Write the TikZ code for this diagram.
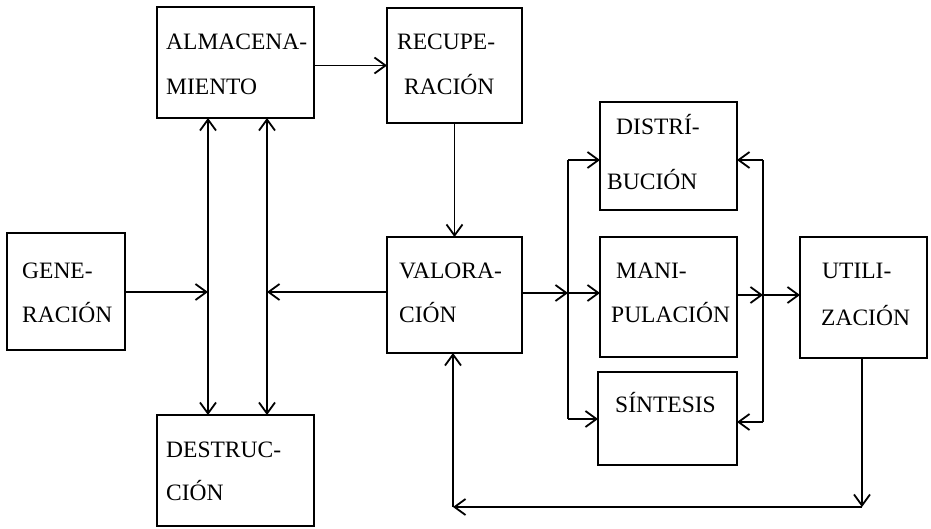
\documentclass[tikz,border=0pt]{standalone}
\usepackage{fontspec}
\setmainfont{Liberation Serif}
\usetikzlibrary{arrows.meta}
\begin{document}
\begin{tikzpicture}[x=1pt,y=-1pt,
  box/.style={draw,line width=1.8pt,inner sep=0pt,outer sep=0pt},
  lbl/.style={inner sep=0pt,anchor=base west,font=\fontsize{23.5}{28}\selectfont},
  arr/.style={line width=1.8pt,-{Straight Barb[length=11pt,width=16pt,line width=1.8pt]}},
  arrb/.style={line width=1.8pt,{Straight Barb[length=11pt,width=16pt,line width=1.8pt]}-{Straight Barb[length=11pt,width=16pt,line width=1.8pt]}},
  ln/.style={line width=1.8pt}]
\useasboundingbox (0,0) rectangle (931,528);
% boxes
\node[box,minimum width=157pt,minimum height=111pt] (alma) at (235.5,62.5) {};
\node[box,minimum width=135pt,minimum height=115pt] (recup) at (454.5,65.5) {};
\node[box,minimum width=118pt,minimum height=117pt] (gen) at (66,291.5) {};
\node[box,minimum width=135pt,minimum height=116pt] (valor) at (454.5,295) {};
\node[box,minimum width=157pt,minimum height=111pt] (destr) at (235.5,470.5) {};
\node[box,minimum width=137pt,minimum height=108pt] (distr) at (668.5,156) {};
\node[box,minimum width=137pt,minimum height=120pt] (manip) at (668.5,297) {};
\node[box,minimum width=139pt,minimum height=93pt] (sint) at (667.5,418.5) {};
\node[box,minimum width=127pt,minimum height=121pt] (util) at (863.5,297.5) {};
% texts
\node[lbl] (almaA) at (166,49.5) {ALMACENA-};
\node[lbl] (almaB) at (166,94.5) {MIENTO};
\node[lbl] (recA) at (397,49.5) {RECUPE-};
\node[lbl] (recB) at (404,94.5) {RACIÓN};
\node[lbl] (genA) at (22,278.5) {GENE-};
\node[lbl] (genB) at (22,322.5) {RACIÓN};
\node[lbl] (valA) at (399,278.5) {VALORA-};
\node[lbl] (valB) at (399,322.5) {CIÓN};
\node[lbl] (desA) at (166,457.5) {DESTRUC-};
\node[lbl] (desB) at (166,500.5) {CIÓN};
\node[lbl] (disA) at (616,134.5) {DISTRÍ-};
\node[lbl] (disB) at (607,189.5) {BUCIÓN};
\node[lbl] (manA) at (616,278.5) {MANI-};
\node[lbl] (manB) at (611,322.5) {PULACIÓN};
\node[lbl] (sinA) at (615,412.5) {SÍNTESIS};
\node[lbl] (utiA) at (822,278.5) {UTILI-};
\node[lbl] (utiB) at (821,325) {ZACIÓN};
% coordinates
\coordinate (xa) at (208,292);
\coordinate (xb) at (267,292);
\coordinate (jl) at (568,293);
\coordinate (jlt) at (568,160);
\coordinate (jlb) at (568,419);
\coordinate (jr) at (763,295);
\coordinate (jrt) at (763,160);
\coordinate (jrb) at (763,422);
\coordinate (bl) at (453,507);
\coordinate (br) at (862,507);
% connectors
\draw[arr] (alma.east |- recup.west) -- (recup.west);
\draw[arr] (recup.south) -- (valor.north);
\draw[arrb] (alma.south -| xa) -- (destr.north -| xa);
\draw[arrb] (alma.south -| xb) -- (destr.north -| xb);
\draw[arr] (gen.east |- xa) -- (xa);
\draw[arr] (valor.west |- xb) -- (xb);
\draw[arr] (valor.east |- jl) -- (jl);
\draw[arr] (jl) -- (manip.west |- jl);
\draw[ln] (jlt) -- (jlb);
\draw[arr] (jlt) -- (distr.west |- jlt);
\draw[arr] (jlb) -- (sint.west |- jlb);
\draw[arr] (manip.east |- jr) -- (jr);
\draw[arr] (jr) -- (util.west |- jr);
\draw[ln] (jrt) -- (jrb);
\draw[arr] (jrt) -- (distr.east |- jrt);
\draw[arr] (jrb) -- (sint.east |- jrb);
\draw[arr] (util.south -| br) -- (br);
\draw[arr] (br) -- (bl);
\draw[arr] (bl) -- (valor.south -| bl);
\end{tikzpicture}
\end{document}
